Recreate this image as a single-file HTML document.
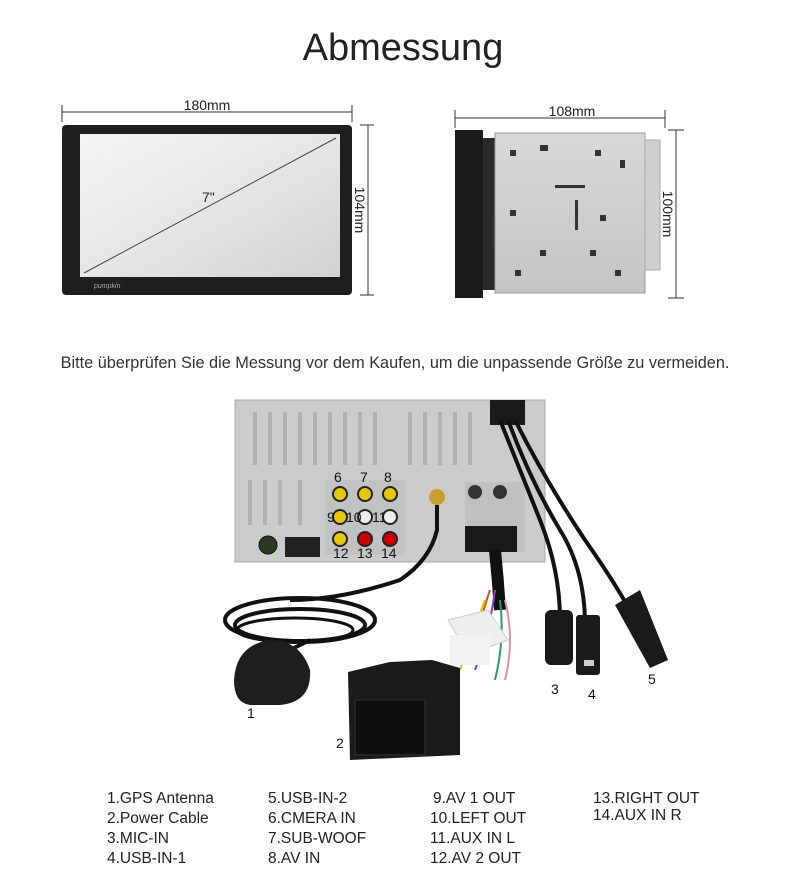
<!DOCTYPE html>
<html><head><meta charset="utf-8"><style>
body{margin:0;background:#fff;width:800px;height:870px;overflow:hidden;font-family:"Liberation Sans",sans-serif;}
</style></head><body>
<svg width="800" height="870" xmlns="http://www.w3.org/2000/svg" font-family="Liberation Sans, sans-serif">
<defs>
<linearGradient id="scr" x1="0" y1="0" x2="1" y2="1"><stop offset="0" stop-color="#f4f4f4"/><stop offset="0.5" stop-color="#e6e6e6"/><stop offset="1" stop-color="#d2d2d2"/></linearGradient>
<linearGradient id="metal" x1="0" y1="0" x2="0" y2="1"><stop offset="0" stop-color="#d8d8d8"/><stop offset="1" stop-color="#c4c4c4"/></linearGradient>
</defs>
<text x="403" y="60" font-size="38" text-anchor="middle" fill="#222" font-weight="300">Abmessung</text>
<line x1="62" y1="112" x2="352" y2="112" stroke="#333" stroke-width="1"/>
<line x1="62" y1="105" x2="62" y2="122" stroke="#333"/><line x1="352" y1="105" x2="352" y2="122" stroke="#333"/>
<text x="207" y="110" font-size="14" text-anchor="middle" fill="#222">180mm</text>
<line x1="368" y1="125" x2="368" y2="295" stroke="#333"/>
<line x1="360" y1="125" x2="374" y2="125" stroke="#333"/><line x1="360" y1="295" x2="374" y2="295" stroke="#333"/>
<text transform="translate(355,210) rotate(90)" font-size="14" text-anchor="middle" fill="#222">104mm</text>
<rect x="62" y="125" width="290" height="170" rx="4" fill="#1e1e1e"/>
<rect x="80" y="134" width="260" height="143" fill="url(#scr)"/>
<line x1="84" y1="273" x2="336" y2="138" stroke="#444" stroke-width="1"/>
<text x="202" y="202" font-size="14" fill="#222">7"</text>
<text x="94" y="288" font-size="7" fill="#aaa" font-style="italic">pumpkin</text>
<line x1="455" y1="118" x2="665" y2="118" stroke="#333"/>
<line x1="455" y1="110" x2="455" y2="128" stroke="#333"/><line x1="665" y1="110" x2="665" y2="128" stroke="#333"/>
<text x="572" y="116" font-size="14" text-anchor="middle" fill="#222">108mm</text>
<line x1="676" y1="130" x2="676" y2="298" stroke="#333"/>
<line x1="668" y1="130" x2="684" y2="130" stroke="#333"/><line x1="668" y1="298" x2="684" y2="298" stroke="#333"/>
<text transform="translate(663,214) rotate(90)" font-size="14" text-anchor="middle" fill="#222">100mm</text>
<rect x="455" y="130" width="28" height="168" fill="#1a1a1a"/>
<rect x="483" y="138" width="12" height="152" fill="#2a2a2a"/>
<rect x="495" y="133" width="150" height="160" fill="url(#metal)" stroke="#999"/>
<rect x="645" y="140" width="15" height="130" fill="#cfcfcf" stroke="#aaa"/>
<g fill="#333">
<rect x="510" y="150" width="6" height="6"/><rect x="540" y="145" width="8" height="6"/><rect x="595" y="150" width="6" height="6"/><rect x="620" y="160" width="5" height="8"/>
<rect x="510" y="210" width="6" height="6"/><rect x="600" y="215" width="6" height="6"/><rect x="540" y="250" width="6" height="6"/><rect x="590" y="250" width="6" height="6"/>
<rect x="515" y="270" width="6" height="6"/><rect x="615" y="270" width="6" height="6"/><rect x="555" y="185" width="30" height="3"/><rect x="575" y="200" width="3" height="30"/>
</g>
<text x="395" y="368" font-size="16.3" text-anchor="middle" fill="#333">Bitte überprüfen Sie die Messung vor dem Kaufen, um die unpassende Größe zu vermeiden.</text>
<rect x="235" y="400" width="310" height="162" fill="#cbcbcb" stroke="#aaa"/>
<g stroke="#b0b0b0" stroke-width="4">
<line x1="255" y1="412" x2="255" y2="465"/><line x1="270" y1="412" x2="270" y2="465"/><line x1="285" y1="412" x2="285" y2="465"/><line x1="300" y1="412" x2="300" y2="465"/><line x1="315" y1="412" x2="315" y2="465"/><line x1="330" y1="412" x2="330" y2="465"/><line x1="345" y1="412" x2="345" y2="465"/><line x1="360" y1="412" x2="360" y2="465"/><line x1="375" y1="412" x2="375" y2="465"/><line x1="410" y1="412" x2="410" y2="465"/><line x1="425" y1="412" x2="425" y2="465"/><line x1="440" y1="412" x2="440" y2="465"/><line x1="455" y1="412" x2="455" y2="465"/><line x1="470" y1="412" x2="470" y2="465"/>
<line x1="250" y1="480" x2="250" y2="525"/><line x1="265" y1="480" x2="265" y2="525"/><line x1="280" y1="480" x2="280" y2="525"/><line x1="300" y1="480" x2="300" y2="525"/>
</g>
<rect x="325" y="480" width="80" height="75" fill="#c2c2c2"/>
<g stroke="#222" stroke-width="2">
<circle cx="340" cy="494" r="7" fill="#e8c800"/><circle cx="365" cy="494" r="7" fill="#e8c800"/><circle cx="390" cy="494" r="7" fill="#e8c800"/>
<circle cx="340" cy="517" r="7" fill="#e8c800"/><circle cx="365" cy="517" r="7" fill="#eee"/><circle cx="390" cy="517" r="7" fill="#eee"/>
<circle cx="340" cy="539" r="7" fill="#e8c800"/><circle cx="365" cy="539" r="7" fill="#c00"/><circle cx="390" cy="539" r="7" fill="#c00"/>
</g>
<g fill="#111" font-size="14">
<text x="334" y="482">6</text><text x="360" y="482">7</text><text x="384" y="482">8</text>
<text x="327" y="522">9</text><text x="346" y="522">10</text><text x="372" y="522">11</text>
<text x="333" y="558">12</text><text x="357" y="558">13</text><text x="381" y="558">14</text>
</g>
<circle cx="437" cy="497" r="8" fill="#c9a030"/>
<rect x="285" y="537" width="35" height="20" fill="#222"/>
<circle cx="268" cy="545" r="9" fill="#2a3a20" stroke="#111"/>
<rect x="465" y="482" width="60" height="70" fill="#c0c0c0"/>
<circle cx="475" cy="492" r="7" fill="#333"/><circle cx="500" cy="492" r="7" fill="#333"/>
<rect x="465" y="526" width="52" height="26" fill="#1a1a1a"/>
<rect x="490" y="400" width="35" height="25" fill="#1a1a1a"/>
<g fill="none" stroke="#111" stroke-width="4">
<path d="M437 505 L437 530 Q430 560 400 580 Q340 600 290 600"/>
<path d="M500 420 Q520 470 540 520 Q560 570 560 620"/>
<path d="M508 420 Q530 480 560 530 Q585 570 585 625"/>
<path d="M515 420 Q545 480 585 540 Q620 590 635 620"/>
<ellipse cx="300" cy="620" rx="75" ry="22" stroke-width="4"/>
<ellipse cx="300" cy="625" rx="65" ry="16" stroke-width="4"/>
<ellipse cx="295" cy="630" rx="58" ry="12" stroke-width="3"/>
<path d="M310 640 Q300 645 290 650" />
<path d="M495 550 Q498 580 500 610" stroke-width="12"/>
</g>
<g fill="none" stroke-width="2">
<path d="M490 590 Q480 620 470 660" stroke="#e05020"/><path d="M495 590 Q490 630 475 670" stroke="#8040c0"/><path d="M500 600 Q505 640 495 680" stroke="#20a060"/><path d="M505 600 Q515 640 505 680" stroke="#e090a0"/><path d="M485 600 Q470 640 460 670" stroke="#f0c000"/>
</g>
<path d="M448 620 l40 -10 l20 30 l-40 15z" fill="#eee" stroke="#ccc"/>
<path d="M450 635 l40 0 l0 30 l-40 0z" fill="#f2f2f2"/>
<path d="M234 680 Q236 645 270 640 Q300 640 310 670 Q312 702 280 705 L250 705 Q234 703 234 680z" fill="#1e1e1e"/>
<path d="M348 672 L390 662 L432 660 L460 668 L460 755 L350 760z" fill="#1a1a1a"/>
<rect x="355" y="700" width="70" height="55" fill="#0f0f0f" stroke="#333"/>
<rect x="545" y="610" width="28" height="55" rx="6" fill="#1a1a1a"/>
<rect x="576" y="615" width="24" height="60" rx="3" fill="#1a1a1a"/>
<rect x="584" y="660" width="10" height="6" fill="#ccc"/>
<path d="M615 605 L640 590 L668 660 L650 668z" fill="#1a1a1a"/>
<g fill="#111" font-size="14">
<text x="247" y="718">1</text><text x="336" y="748">2</text><text x="551" y="694">3</text><text x="588" y="699">4</text><text x="648" y="684">5</text>
</g>
<g fill="#222" font-size="15.5">
<text x="107" y="803">1.GPS Antenna</text><text x="107" y="823">2.Power Cable</text><text x="107" y="843">3.MIC-IN</text><text x="107" y="863">4.USB-IN-1</text>
<text x="268" y="803">5.USB-IN-2</text><text x="268" y="823">6.CMERA IN</text><text x="268" y="843">7.SUB-WOOF</text><text x="268" y="863">8.AV IN</text>
<text x="433" y="803">9.AV 1 OUT</text><text x="430" y="823">10.LEFT OUT</text><text x="430" y="843">11.AUX IN L</text><text x="430" y="863">12.AV 2 OUT</text>
<text x="593" y="803">13.RIGHT OUT</text><text x="593" y="820">14.AUX IN R</text>
</g>
</svg>
</body></html>
